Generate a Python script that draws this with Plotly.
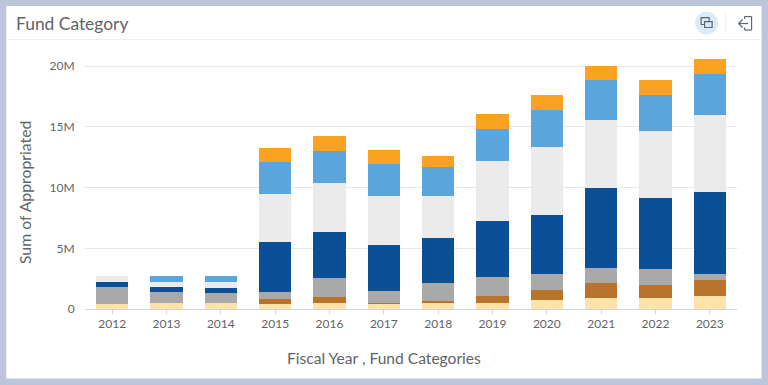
import plotly.graph_objects as go

years = ["2012","2013","2014","2015","2016","2017","2018","2019","2020","2021","2022","2023"]
cream  = [.41,.49,.47,.41,.52,.47,.47,.49,.74,.88,.93,1.04]
brown  = [0,0,0,.44,.44,.02,.19,.61,.82,1.23,1.05,1.35]
gray   = [1.37,.94,.87,.58,1.62,1.02,1.45,1.56,1.29,1.24,1.31,.46]
navy   = [.41,.41,.39,4.11,3.73,3.73,3.71,4.58,4.86,6.58,5.82,6.75]
light  = [.53,.41,.52,3.90,4.06,4.05,3.45,4.97,5.62,5.65,5.54,6.37]
blue   = [0,.44,.49,2.66,2.66,2.67,2.47,2.66,3.10,3.27,3.02,3.37]
orange = [0,0,0,1.18,1.24,1.13,.85,1.23,1.21,1.18,1.18,1.29]

series = [(cream,"#fde3a7"),(brown,"#b8742a"),(gray,"#a9a9a9"),(navy,"#0b4f98"),
          (light,"#ebebeb"),(blue,"#5aa5dc"),(orange,"#fba321")]

W, H = 768, 385
L, R, T, B = 84.8, 30.6, 45, 75.7
def px(x): return (x - L) / (W - L - R)
def py(y): return 1 - (y - T) / (H - T - B)

fig = go.Figure()
for vals, col in series:
    fig.add_bar(x=years, y=[v * 1e6 for v in vals], marker=dict(color=col, line_width=0), width=0.6)

def rect(x0, y0, x1, y1, **kw):
    return dict(type="rect", xref="paper", yref="paper", x0=px(x0), x1=px(x1), y0=py(y0), y1=py(y1), **kw)
def seg(x0, y0, x1, y1, col, w=1.2):
    return dict(type="line", xref="paper", yref="paper", x0=px(x0), x1=px(x1), y0=py(y0), y1=py(y1),
                line=dict(color=col, width=w))
ic = "#5c6670"
shapes = [
    rect(6, 6, 762, 379, fillcolor="white", line_width=0, layer="below"),
    seg(7, 39.5, 761, 39.5, "#eeeeee", 1),
    dict(type="circle", xref="paper", yref="paper", x0=px(695.5), x1=px(718.5), y0=py(11.5), y1=py(34.5),
         fillcolor="#dcebf5", line_width=0),
    rect(701.5, 17.5, 709.5, 24.5, line=dict(color=ic, width=1.2)),
    rect(705, 21.5, 712.5, 27.5, line=dict(color=ic, width=1.2), fillcolor="#dcebf5"),
    seg(726, 13, 726, 33, "#f0f0f0", 1),
    seg(745, 16.5, 752, 16.5, ic), seg(752, 16.5, 752, 30, ic), seg(745, 30, 752, 30, ic),
    seg(745, 16.5, 745, 19, ic), seg(745, 27.5, 745, 30, ic),
    seg(739, 23.5, 748.5, 23.5, ic), seg(739, 23.5, 743, 19.5, ic), seg(739, 23.5, 743, 27.5, ic),
]

def note(text, x, y, size, anchor="center", angle=0):
    return dict(text=text, xref="paper", yref="paper", x=px(x), y=py(y), xanchor=anchor, yanchor="middle",
                showarrow=False, textangle=angle, borderpad=0, font=dict(size=size, color="#606468"))

fig.update_layout(
    width=W, height=H, barmode="stack", bargap=0.4, showlegend=False,
    paper_bgcolor="#bcc5da", plot_bgcolor="rgba(0,0,0,0)",
    margin=dict(l=L, r=R, t=T, b=B, pad=0, autoexpand=False),
    font=dict(family="Lato", color="#606468"),
    shapes=shapes,
    annotations=[
        note("Fund Category", 15, 23, 17.4, "left"),
        note("Fiscal Year , Fund Categories", 384.5, 358, 15.6),
        note("Sum of Appropriated", 25, 192, 15.8, angle=-90),
    ],
    xaxis=dict(type="category", showgrid=False, showline=True, linecolor="#d0d3d8", linewidth=1,
               ticks="outside", ticklen=4, tickcolor="#d0d3d8", tickfont=dict(size=12, color="#606468")),
    yaxis=dict(range=[0, 21.75e6], tickvals=[0, 5e6, 10e6, 15e6, 20e6], tickformat="~s",
               gridcolor="#e8e8e8", gridwidth=1, zeroline=False, ticks="outside", ticklen=7,
               tickcolor="rgba(0,0,0,0)", tickfont=dict(size=12, color="#606468")),
)
fig.write_html("out.html", config=dict(displayModeBar=False),
               post_script="document.body.style.margin='0';document.body.style.overflow='hidden';")
